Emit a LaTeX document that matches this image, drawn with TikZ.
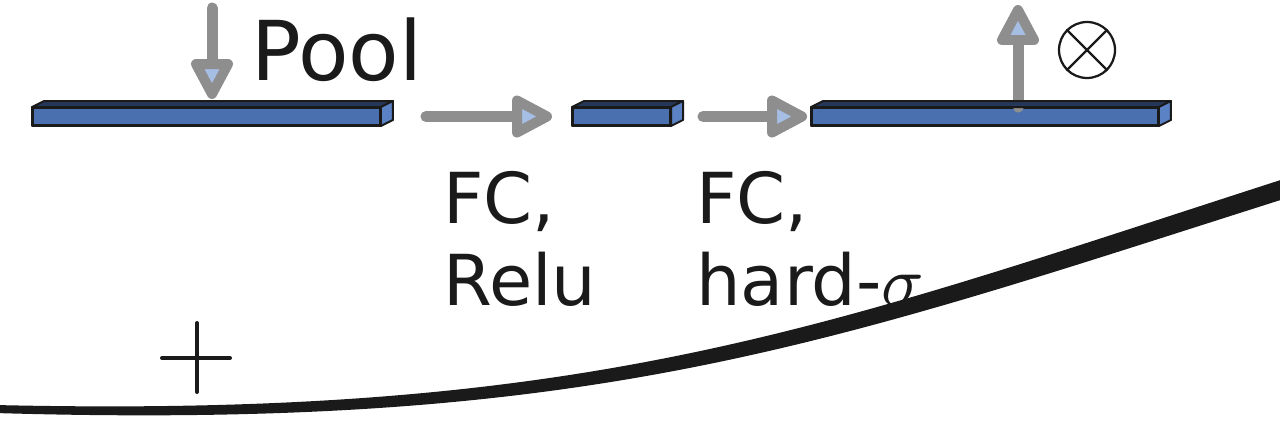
\documentclass[tikz,border=0pt]{standalone}
\usepackage{fontspec}
\setmainfont{DejaVu Sans}
\DeclareFontShape{OML}{cmm}{m}{it}{<->cmmi10}{}
\usetikzlibrary{calc}
\definecolor{barblue}{HTML}{4A70B0}
\definecolor{bartop}{HTML}{26385A}
\definecolor{barside}{HTML}{5A82C4}
\definecolor{agray}{HTML}{8E8E8E}
\definecolor{headblue}{HTML}{A6BEE4}
\definecolor{ink}{HTML}{1A1A1A}
\begin{document}
\begin{tikzpicture}[x=0.02cm,y=-0.02cm,
  bar/.style={draw=ink, fill=barblue, line width=0.04cm, inner sep=0pt, minimum height=0.34cm},
  face/.style={draw=ink, line width=0.04cm, line join=round},
  gline/.style={draw=agray, line width=0.22cm, line cap=round},
  lbl/.style={inner sep=0pt, text=ink, font=\fontsize{40}{48}\selectfont},
  thin/.style={draw=ink, line width=0.045cm},
  ahead/.pic={\draw[draw=agray, line width=0.2cm, line join=round, fill=headblue] (0,0) -- (-30,16) -- (-30,-16) -- cycle;}
]
\useasboundingbox (0,0) rectangle (1280,436);
\clip (0,0) rectangle (1280,436);

% bottom curve
\fill[ink] (-5,405) .. controls (600,419) and (830,325) .. (1290,177)
  -- (1290,197) .. controls (830,343) and (600,431) .. (-5,413) -- cycle;

% bars (nodes)
\node[bar, minimum width=6.94cm] (b1) at (206.5,116.5) {};
\node[bar, minimum width=1.94cm] (b2) at (621.5,116.5) {};
\node[bar, minimum width=6.92cm] (b3) at (985,116.5) {};

% arrows
\coordinate (p0) at (212,8);
\coordinate (t1) at ($(b1.north -| p0)+(0,-13)$);
\draw[gline] (p0) -- ($(t1)+(0,-30)$);
\pic[rotate=-90] at (t1) {ahead};

\coordinate (t2) at ($(b2.west)+(-25,0)$);
\draw[gline] ([xshift=0.9cm]b1.east) -- ($(t2)+(-30,0)$);
\pic at (t2) {ahead};

\coordinate (t3) at ($(b3.west)+(-9,0)$);
\draw[gline] ([xshift=0.64cm]b2.east) -- ($(t3)+(-30,0)$);
\pic at (t3) {ahead};

\coordinate (t4) at (1018,10);
\draw[gline] (b3.north -| t4) -- ($(t4)+(0,30)$);
\pic[rotate=90] at (t4) {ahead};

% 3D faces of bars
\foreach \b in {b1,b2,b3}{
  \draw[face, fill=bartop] (\b.north west) -- ++(12,-6) -- ($(\b.north east)+(12,-6)$) -- (\b.north east) -- cycle;
  \draw[face, fill=barside] (\b.north east) -- ++(12,-6) -- ($(\b.south east)+(12,-6)$) -- (\b.south east) -- cycle;
  \draw[face] (\b.north west) rectangle (\b.south east);
}

% labels
\node[inner sep=0pt, text=ink, font=\fontsize{47}{56}\selectfont, anchor=base west] (pool) at (251,80) {Pool};
\node[lbl, anchor=base west] (fc1) at (443,223) {FC,};
\node[lbl, anchor=base west] (relu) at (443,305) {Relu};
\node[lbl, anchor=base west] (fc2) at (696,223) {FC,};
\node[lbl, anchor=base west] (hard) at (696,305) {hard-$\sigma$};

% otimes
\node[circle, thin, minimum size=1.12cm, inner sep=0pt] (ot) at (1087,50) {};
\draw[thin] (ot.north west) -- (ot.south east);
\draw[thin] (ot.north east) -- (ot.south west);

% plus
\coordinate (plus) at (197,358);
\draw[ink, line width=0.08cm, line cap=round] ($(plus)+(-35,0)$) -- ($(plus)+(33,0)$);
\draw[ink, line width=0.08cm, line cap=round] ($(plus)+(0,-35)$) -- ($(plus)+(0,34)$);
\end{tikzpicture}
\end{document}
